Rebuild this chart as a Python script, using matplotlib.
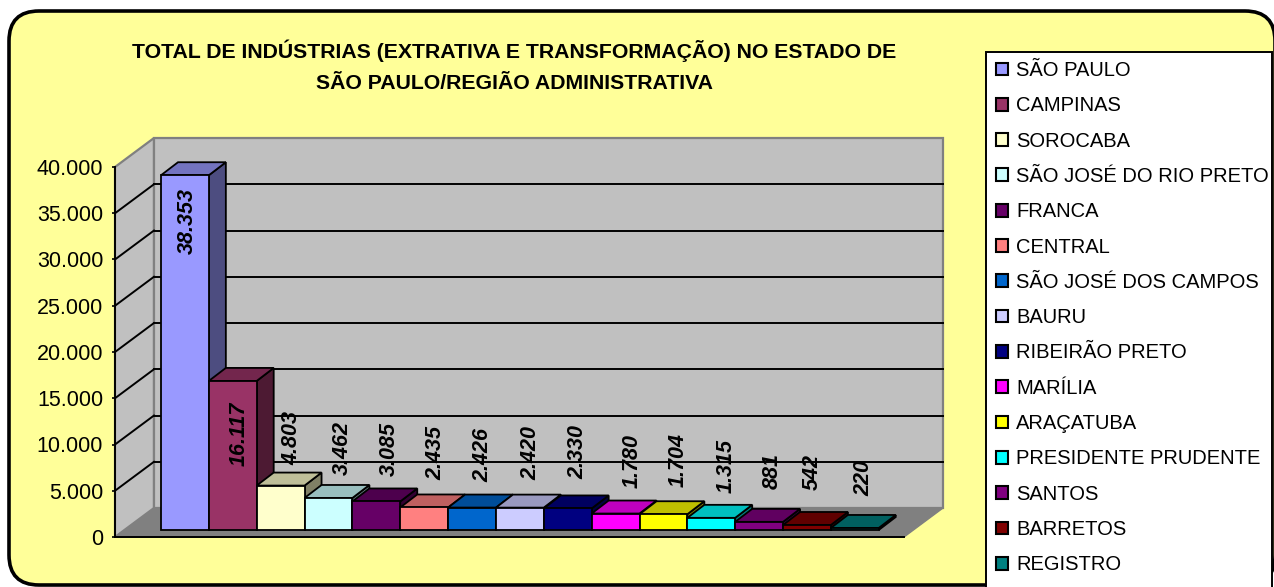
import matplotlib
matplotlib.use("Agg")
import matplotlib.pyplot as plt
from matplotlib.patches import FancyBboxPatch, Polygon, Patch, Rectangle
from matplotlib.colors import to_rgb
from matplotlib.ticker import FuncFormatter

plt.rcParams["font.family"] = ["Liberation Sans", "DejaVu Sans"]

regions = ["SÃO PAULO", "CAMPINAS", "SOROCABA", "SÃO JOSÉ DO RIO PRETO", "FRANCA",
           "CENTRAL", "SÃO JOSÉ DOS CAMPOS", "BAURU", "RIBEIRÃO PRETO", "MARÍLIA",
           "ARAÇATUBA", "PRESIDENTE PRUDENTE", "SANTOS", "BARRETOS", "REGISTRO"]
totals = [38353, 16117, 4803, 3462, 3085, 2435, 2426, 2420, 2330, 1780, 1704, 1315, 881, 542, 220]
colors = ["#9999FF", "#993366", "#FFFFCC", "#CCFFFF", "#660066", "#FF8080", "#0066CC", "#CCCCFF",
          "#000080", "#FF00FF", "#FFFF00", "#00FFFF", "#800080", "#800000", "#008080"]
y_ticks = [0, 5000, 10000, 15000, 20000, 25000, 30000, 35000, 40000]

# hand placed data labels in the original, pixels from the top of each bar
label_dx = [2, 6, 11, 14, 13, 12, 11, 11, 10, 17, 15, 15, 13, 5, 9]
label_dy = [46, 53, -48, -50, -52, -54, -53, -55, -56, -53, -54, -52, -51, -53, -50]


def br_number(v, pos=None):
    return f"{int(v):,}".replace(",", ".")


def shade(color, k):
    return tuple(c * k for c in to_rgb(color))


fig = plt.figure(figsize=(12.74, 5.87), dpi=100, facecolor="white")

# card behind everything, in pixel units
bg = fig.add_axes([0, 0, 1, 1])
bg.set_xlim(0, 1274)
bg.set_ylim(587, 0)
bg.axis("off")
bg.add_patch(FancyBboxPatch((39, 41), 1206, 514, boxstyle="round,pad=30,rounding_size=30",
                            fc="#FFFF99", ec="black", lw=2.6, clip_on=False))
bg.text(514, 66, "TOTAL DE INDÚSTRIAS (EXTRATIVA E TRANSFORMAÇÃO) NO ESTADO DE\nSÃO PAULO/REGIÃO ADMINISTRATIVA",
        ha="center", va="center", fontsize=15.3, fontweight="bold", linespacing=1.78)
bg.add_patch(Rectangle((986, 52), 286, 540, fc="white", ec="black", lw=1.4, clip_on=False))

# front plane of the fake 3D box
ax = fig.add_axes([115 / 1274, 50 / 587, 789 / 1274, 370 / 587])
ax.patch.set_alpha(0)
px_x = 47.85
px_y = 370 / 40000
ax.set_xlim((115 - 161) / px_x, (904 - 161) / px_x)
ax.set_ylim(0, 40000)

x0, x1 = ax.get_xlim()
wall_dx = 39 / px_x
wall_dy = 29 / px_y
ymax = 40000

# floor and walls
ax.add_patch(Polygon([(x0, 0), (x0 + wall_dx, wall_dy), (x1 + wall_dx, wall_dy), (x1, 0)],
                     fc="#808080", ec="#808080", lw=1, clip_on=False, zorder=1))
ax.add_patch(Polygon([(x0, 0), (x0 + wall_dx, wall_dy), (x0 + wall_dx, ymax + wall_dy), (x0, ymax)],
                     fc="#C0C0C0", ec="#808080", lw=1.6, clip_on=False, zorder=1))
ax.add_patch(Polygon([(x0 + wall_dx, wall_dy), (x1 + wall_dx, wall_dy), (x1 + wall_dx, ymax + wall_dy),
                      (x0 + wall_dx, ymax + wall_dy)],
                     fc="#C0C0C0", ec="#808080", lw=1.6, clip_on=False, zorder=1))

# gridlines, side wall then back wall
for t in y_ticks[1:-1]:
    ax.plot([x0, x0 + wall_dx], [t, t + wall_dy], color="black", lw=1.4, clip_on=False, zorder=2)
    ax.plot([x0 + wall_dx, x1 + wall_dx], [t + wall_dy, t + wall_dy], color="black", lw=1.4,
            clip_on=False, zorder=2)

# bars, front face plus top and side
bar_base = 7 / px_y
depth_x = 17 / px_x
depth_y = 13 / px_y
for i, (v, c) in enumerate(zip(totals, colors)):
    z = 3 + i
    top = bar_base + v
    ax.add_patch(Polygon([(i + 1, bar_base), (i + 1 + depth_x, bar_base + depth_y),
                          (i + 1 + depth_x, top + depth_y), (i + 1, top)],
                         fc=shade(c, 0.5), ec="black", lw=1.3, clip_on=False, zorder=z))
    ax.add_patch(Polygon([(i, top), (i + depth_x, top + depth_y), (i + 1 + depth_x, top + depth_y), (i + 1, top)],
                         fc=shade(c, 0.75), ec="black", lw=1.3, clip_on=False, zorder=z))
    ax.bar(i, v, width=1, bottom=bar_base, align="edge", color=c, edgecolor="black", lw=1.3,
           clip_on=False, zorder=z)

for i, v in enumerate(totals):
    ax.annotate(br_number(v), (i + 0.5, bar_base + v), xytext=(label_dx[i], -label_dy[i]),
                textcoords="offset pixels", rotation=90, ha="center", va="center",
                fontsize=15.5, fontweight="bold", fontstyle="italic", zorder=30, annotation_clip=False)

ax.set_yticks(y_ticks)
ax.yaxis.set_major_formatter(FuncFormatter(br_number))
ax.tick_params(axis="y", length=2.5, width=1.2, pad=6, labelsize=15.5, color="black")
ax.set_xticks([])
ax.spines[["top", "right"]].set_visible(False)
ax.spines["left"].set_linewidth(1.4)
ax.spines["bottom"].set_linewidth(1.4)
ax.spines["left"].set_zorder(2.5)
ax.spines["bottom"].set_zorder(2.5)

handles = [Patch(fc=c, ec="black", lw=1.5) for c in colors]
ax.legend(handles, regions, loc="upper left", bbox_to_anchor=(996 / 1274, 526 / 587),
          bbox_transform=fig.transFigure, fontsize=14.5, frameon=False, borderaxespad=0, borderpad=0,
          handlelength=0.6, handleheight=0.6, handletextpad=0.4, labelspacing=0.81)

fig.savefig("out.png", dpi=100, facecolor="white")
